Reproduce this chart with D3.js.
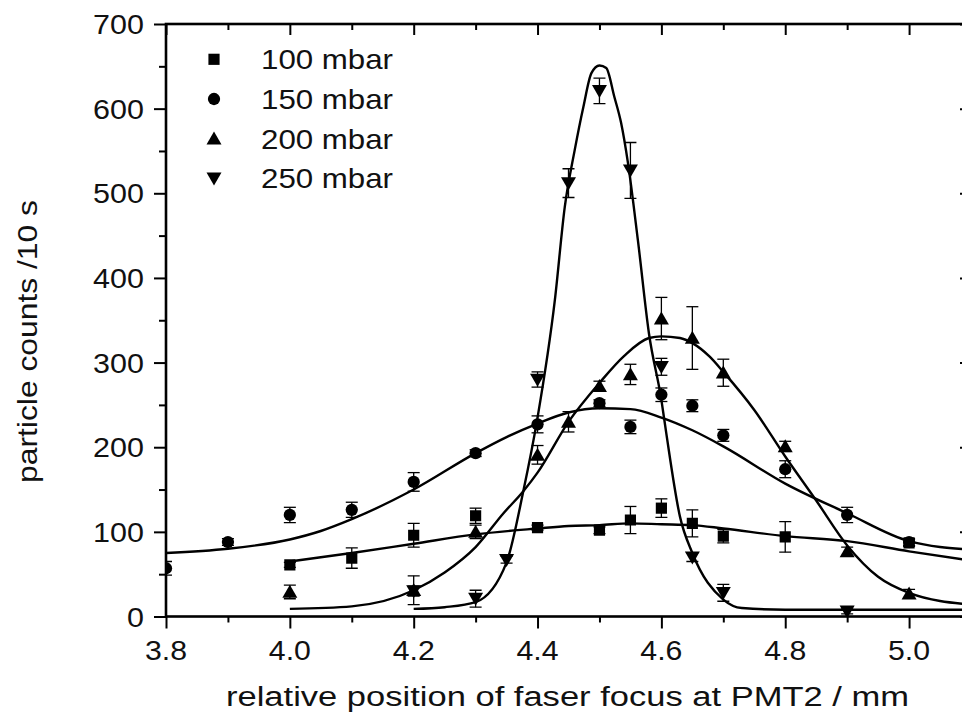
<!DOCTYPE html>
<html><head><meta charset="utf-8">
<script src="https://cdn.jsdelivr.net/npm/d3@7"></script>
<style>
html,body{margin:0;padding:0;background:#fff;overflow:hidden}
svg{display:block;font-family:"Liberation Sans",Arial,Helvetica,sans-serif}
</style></head><body>
<svg id="chart" width="962" height="719"></svg>
<script>
// ---------- data ----------
const seriesNames = ["100 mbar", "150 mbar", "200 mbar", "250 mbar"];

const x100 = [4.0, 4.1, 4.2, 4.3, 4.4, 4.5, 4.55, 4.6, 4.65, 4.7, 4.8, 5.0];
const y100 = [61, 69, 96, 119, 105, 102, 114, 128, 110, 95, 94, 87];
const e100 = [3, 12, 14, 9, 3, 4, 16, 11, 16, 8, 18, 4];

const x150 = [3.8, 3.9, 4.0, 4.1, 4.2, 4.3, 4.4, 4.5, 4.55, 4.6, 4.65, 4.7, 4.8, 4.9, 5.0];
const y150 = [57, 88, 120, 126, 159, 193, 227, 252, 224, 262, 249, 214, 174, 120, 88];
const e150 = [8, 4, 9, 9, 11, 4, 10, 4, 8, 8, 7, 7, 10, 9, 4];

const x200 = [4.0, 4.2, 4.3, 4.4, 4.45, 4.5, 4.55, 4.6, 4.65, 4.7, 4.8, 4.9, 5.0];
const y200 = [29, 31, 100, 191, 230, 272, 286, 352, 329, 288, 201, 77, 27];
const e200 = [8, 17, 8, 11, 12, 6, 12, 25, 37, 16, 6, 5, 5];

const x250 = [4.2, 4.3, 4.35, 4.4, 4.45, 4.5, 4.55, 4.6, 4.65, 4.7, 4.9];
const y250 = [30, 21, 67, 280, 512, 621, 527, 295, 70, 28, 6];
const e250 = [6, 10, 4, 9, 17, 15, 33, 10, 5, 10, 3];

// fitted curves, points
const fit100x = [4.0, 4.1, 4.2, 4.3, 4.4, 4.45, 4.5, 4.55, 4.6, 4.65, 4.7, 4.8, 4.9, 5.0, 5.1];
const fit100y = [65, 75, 86, 97, 104, 107, 108, 110, 109, 108, 104, 95, 89, 77, 66];

const fit150x = [3.8, 3.9, 4.0, 4.05, 4.1, 4.2, 4.3, 4.35, 4.4, 4.45, 4.5, 4.55, 4.6, 4.65, 4.7, 4.8, 4.9, 5.0, 5.1];
const fit150y = [75, 80, 91, 101, 115, 150, 193, 212, 228, 241, 246, 245, 235, 220, 201, 157, 122, 89, 79];

const fit200x = [4.0, 4.1, 4.2, 4.25, 4.3, 4.345, 4.377, 4.4, 4.45, 4.5, 4.54, 4.58, 4.6, 4.63, 4.65, 4.678, 4.7, 4.75, 4.8, 4.85, 4.9, 4.95, 5.0, 5.1];
const fit200y = [9, 12, 31, 52, 82, 122, 148, 170, 230, 276, 308, 329, 331, 329, 323, 307, 289, 244, 189, 137, 84, 47, 28, 14];

const fit250x = [4.2, 4.25, 4.3, 4.35, 4.377, 4.4, 4.428, 4.444, 4.46, 4.474, 4.487, 4.5, 4.511, 4.524, 4.535, 4.546, 4.562, 4.58, 4.6, 4.608, 4.63, 4.65, 4.7, 4.73, 4.8, 4.9, 5.0, 5.1];
const fit250y = [9, 11, 17, 64, 148, 235, 374, 484, 551, 602, 642, 651, 648, 614, 583, 536, 445, 334, 256, 216, 118, 75, 20, 10, 8, 8, 8, 8];

const xMajorTicks = [3.8, 4.0, 4.2, 4.4, 4.6, 4.8, 5.0];
const xTickLabels = ["3.8", "4.0", "4.2", "4.4", "4.6", "4.8", "5.0"];
const xMinorTicks = [3.9, 4.1, 4.3, 4.5, 4.7, 4.9];
const yMajorTicks = [0, 100, 200, 300, 400, 500, 600, 700];
const yTickLabels = ["0", "100", "200", "300", "400", "500", "600", "700"];
const yMinorTicks = [50, 150, 250, 350, 450, 550, 650];

const xTitle = "relative position of faser focus at PMT2 / mm";
const yTitle = "particle counts /10 s";

// ---------- layout ----------
const svg = d3.select("#chart");
const L = 166, R = 971, T = 24, B = 616.5;
const x = d3.scaleLinear().domain([3.8, 5.1]).range([L, R]);
const y = d3.scaleLinear().domain([0, 700]).range([B, T]);

svg.append("defs").append("clipPath").attr("id", "plotclip")
  .append("rect").attr("x", L).attr("y", T).attr("width", R - L).attr("height", B - T);

// symbols
const triUp = { draw(ctx) { const w = 7.5, h = 13; ctx.moveTo(0, -h * 0.55); ctx.lineTo(w, h * 0.45); ctx.lineTo(-w, h * 0.45); ctx.closePath(); } };
const triDown = { draw(ctx) { const w = 7.5, h = 13; ctx.moveTo(0, h * 0.55); ctx.lineTo(w, -h * 0.45); ctx.lineTo(-w, -h * 0.45); ctx.closePath(); } };
const symbols = [
  d3.symbol(d3.symbolSquare, 125)(),
  d3.symbol(d3.symbolCircle, 118)(),
  d3.symbol(triUp, 1)(),
  d3.symbol(triDown, 1)()
];

const series = [
  { xs: x100, ys: y100, es: e100, fx: fit100x, fy: fit100y },
  { xs: x150, ys: y150, es: e150, fx: fit150x, fy: fit150y },
  { xs: x200, ys: y200, es: e200, fx: fit200x, fy: fit200y },
  { xs: x250, ys: y250, es: e250, fx: fit250x, fy: fit250y }
];

const plot = svg.append("g").attr("clip-path", "url(#plotclip)");
const line = d3.line().x(d => x(d[0])).y(d => y(d[1])).curve(d3.curveMonotoneX);

series.forEach(s => {
  const pts = s.fx.map((v, i) => [v, s.fy[i]]);
  plot.append("path").attr("d", line(pts))
    .attr("fill", "none").attr("stroke", "#000").attr("stroke-width", 2.4)
    .attr("stroke-linejoin", "round");
});

// error bars
series.forEach(s => {
  const g = plot.append("g").attr("stroke", "#000").attr("stroke-width", 1.3).attr("fill", "none");
  s.xs.forEach((v, i) => {
    const cx = x(v), y1 = y(s.ys[i] + s.es[i]), y2 = y(s.ys[i] - s.es[i]);
    g.append("line").attr("x1", cx).attr("x2", cx).attr("y1", y1).attr("y2", y2);
    g.append("line").attr("x1", cx - 6).attr("x2", cx + 6).attr("y1", y1).attr("y2", y1);
    g.append("line").attr("x1", cx - 6).attr("x2", cx + 6).attr("y1", y2).attr("y2", y2);
  });
});

// markers
series.forEach((s, k) => {
  plot.append("g").selectAll("path").data(s.xs).join("path")
    .attr("d", symbols[k])
    .attr("transform", (v, i) => `translate(${x(v)},${y(s.ys[i])})`)
    .attr("fill", "#000");
});

// ---------- axes ----------
const axG = svg.append("g");
function addAxis(axis, tx, ty, size) {
  const g = axG.append("g").attr("transform", `translate(${tx},${ty})`).call(axis.tickSize(size).tickFormat(""));
  g.select(".domain").remove();
  g.selectAll(".tick line").attr("stroke", "#000").attr("stroke-width", 2);
}
addAxis(d3.axisBottom(x).tickValues(xMajorTicks), 0, B, 12);
addAxis(d3.axisBottom(x).tickValues(xMinorTicks), 0, B, 6);
addAxis(d3.axisBottom(x).tickValues(xMajorTicks), 0, T, 11);
addAxis(d3.axisBottom(x).tickValues(xMinorTicks), 0, T, 6);
addAxis(d3.axisLeft(y).tickValues(yMajorTicks), L, 0, 12);
addAxis(d3.axisLeft(y).tickValues(yMinorTicks), L, 0, 7);
addAxis(d3.axisLeft(y).tickValues(yMajorTicks), R, 0, 11);
addAxis(d3.axisLeft(y).tickValues(yMinorTicks), R, 0, 6);

axG.append("rect").attr("x", L).attr("y", T).attr("width", R - L).attr("height", B - T)
  .attr("fill", "none").attr("stroke", "#000").attr("stroke-width", 2.6);

// tick labels
const txt = svg.append("g").attr("fill", "#111").attr("font-size", 28);
xMajorTicks.forEach((v, i) => {
  txt.append("text").attr("text-anchor", "middle")
    .attr("transform", `translate(${x(v)},${660}) scale(1.08,1)`).text(xTickLabels[i]);
});
yMajorTicks.forEach((v, i) => {
  txt.append("text").attr("text-anchor", "end")
    .attr("transform", `translate(${144},${y(v) + 10}) scale(1.09,1)`).text(yTickLabels[i]);
});

// axis titles
svg.append("text").attr("x", 226).attr("y", 706).attr("font-size", 27).attr("fill", "#111")
  .attr("textLength", 683).attr("lengthAdjust", "spacingAndGlyphs").text(xTitle);
svg.append("text").attr("transform", "translate(37,483) rotate(-90)").attr("font-size", 28).attr("fill", "#111")
  .attr("textLength", 283).attr("lengthAdjust", "spacingAndGlyphs").text(yTitle);

// legend
const lg = svg.append("g");
seriesNames.forEach((n, i) => {
  const cy = 59.3 + i * 39.7;
  lg.append("path").attr("d", symbols[i]).attr("transform", `translate(214,${cy})`).attr("fill", "#000");
  lg.append("text").attr("x", 261).attr("y", cy + 10).attr("font-size", 28).attr("fill", "#111")
    .attr("textLength", 132).attr("lengthAdjust", "spacingAndGlyphs").text(n);
});
</script>
</body></html>
